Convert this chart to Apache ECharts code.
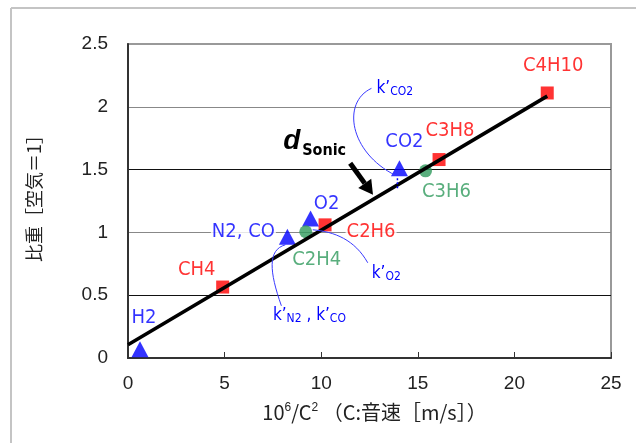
<!DOCTYPE html>
<html>
<head>
<meta charset="utf-8">
<script src="https://cdn.jsdelivr.net/npm/echarts@6/dist/echarts.min.js"></script>
<style>
  html, body { margin: 0; padding: 0; background: #fff; }
  #chart { width: 636px; height: 443px; }
</style>
</head>
<body>
<div id="chart"></div>
<script>
// Gases: x = 10^6 / C^2 (C = speed of sound, m/s), y = specific gravity (air = 1)
const triNames = ['H2', 'N2, CO', 'O2', 'CO2'];
const triX = [0.62, 8.25, 9.45, 14.05];
const triY = [0.07, 0.965, 1.11, 1.51];

const sqNames = ['CH4', 'C2H6', 'C3H8', 'C4H10'];
const sqX = [4.9, 10.2, 16.1, 21.7];
const sqY = [0.565, 1.06, 1.58, 2.11];

const dotNames = ['C2H4', 'C3H6'];
const dotX = [9.2, 15.4];
const dotY = [1.005, 1.49];

// straight fit line d_Sonic
const fitX = [0, 21.7];
const fitY = [0.105, 2.085];

const xTicks = [0, 5, 10, 15, 20, 25];
const yTicks = [0, 0.5, 1, 1.5, 2, 2.5];

const BLUE = '#0000ff', RED = '#ff0000', GREEN = '#2f9a5c';
const LATIN = "'Liberation Sans', Arial, sans-serif";
const NARROW = "'DejaVu Sans Condensed', 'Liberation Sans', sans-serif";
const CJK = "'Noto Sans CJK JP', sans-serif";

// label offset (px) from the marker centre
const labelOffset = {
  'H2': [4, -31], 'N2, CO': [-44, -5], 'O2': [16, -15], 'CO2': [5, -27],
  'CH4': [-26, -17], 'C2H6': [46, 7], 'C3H8': [11, -29], 'C4H10': [6, -27],
  'C2H4': [11, 28], 'C3H6': [21, 21]
};

function points(names, xs, ys) {
  return names.map((n, i) => ({ name: n, value: [xs[i], ys[i]], label: { offset: labelOffset[n] } }));
}
function pointLabel(color) {
  return {
    show: true, position: 'inside', formatter: '{b}', color: color,
    fontSize: 20, fontFamily: NARROW, backgroundColor: '#fff', padding: [0, 1]
  };
}

const chart = echarts.init(document.getElementById('chart'), null, { renderer: 'canvas' });

chart.setOption({
  animation: false,
  backgroundColor: '#fff',
  grid: { left: 128, right: 25, top: 44, bottom: 85, show: true, borderColor: '#999', borderWidth: 2 },
  xAxis: {
    type: 'value', min: xTicks[0], max: xTicks[xTicks.length - 1], interval: xTicks[1] - xTicks[0],
    axisLine: { show: true, onZero: false, lineStyle: { color: '#333', width: 2 } },
    axisTick: { show: true, inside: true, length: 6, lineStyle: { color: '#333', width: 1 } },
    splitLine: { show: false },
    axisLabel: { fontSize: 19, color: '#222', fontFamily: LATIN, margin: 16 },
    name: '10{sup|6}/C{sup|2} （C:音速［m/s］）',
    nameLocation: 'middle', nameGap: 44,
    nameTextStyle: {
      fontSize: 20, color: '#222', fontFamily: CJK, padding: [0, 0, 0, 10],
      rich: { sup: { fontSize: 12, color: '#222', verticalAlign: 'top', fontFamily: LATIN } }
    }
  },
  yAxis: {
    type: 'value', min: yTicks[0], max: yTicks[yTicks.length - 1], interval: yTicks[1] - yTicks[0],
    axisLine: { show: true, onZero: false, lineStyle: { color: '#333', width: 2 } },
    axisTick: { show: false },
    splitLine: { show: true, lineStyle: { color: ['#333', '#111', '#888', '#111', '#888', '#999'], width: 1 } },
    axisLabel: { fontSize: 19, color: '#222', fontFamily: LATIN, margin: 20 },
    name: '比重［空気＝1］', nameLocation: 'middle', nameGap: 85, nameRotate: 90,
    nameTextStyle: { fontSize: 18, color: '#222', fontFamily: CJK, padding: [0, 0, 0, 14] }
  },
  series: [
    {
      type: 'scatter', symbol: 'triangle', symbolSize: [17, 16], clip: false, z: 2,
      itemStyle: { color: BLUE }, label: pointLabel(BLUE),
      data: points(triNames, triX, triY)
    },
    {
      type: 'scatter', symbol: 'rect', symbolSize: 13, clip: false, z: 2,
      itemStyle: { color: RED }, label: pointLabel(RED),
      data: points(sqNames, sqX, sqY)
    },
    {
      type: 'scatter', symbol: 'circle', symbolSize: 13, clip: false, z: 2,
      itemStyle: { color: GREEN }, label: pointLabel(GREEN),
      data: points(dotNames, dotX, dotY)
    },
    {
      type: 'line', showSymbol: false, symbol: 'none', z: 3,
      lineStyle: { color: '#000', width: 3.5 },
      data: fitX.map((x, i) => [x, fitY[i]])
    }
  ]
});

// annotations positioned from data coordinates
const px = (x, y) => chart.convertToPixel({ gridIndex: 0 }, [x, y]);
const co2 = px(triX[3], triY[3]);
const n2 = px(triX[1], triY[1]);
const c2h4 = px(dotX[0], dotY[0]);
const arrowFrom = px(11.5, 1.55);
const arrowTo = px(12.68, 1.3);

function curve(a, p0, p1, p2, p3) {
  return {
    type: 'bezierCurve', z: 10,
    shape: {
      x1: a[0] + p0[0], y1: a[1] + p0[1],
      cpx1: a[0] + p1[0], cpy1: a[1] + p1[1],
      cpx2: a[0] + p2[0], cpy2: a[1] + p2[1],
      x2: a[0] + p3[0], y2: a[1] + p3[1]
    },
    style: { stroke: '#3a3aff', lineWidth: 1, fill: null }
  };
}
function kText(a, off, rich, align) {
  return {
    type: 'text', z: 10, x: a[0] + off[0], y: a[1] + off[1],
    style: {
      text: rich, align: align, verticalAlign: 'middle', fill: BLUE,
      fontFamily: NARROW, fontSize: 16,
      rich: {
        k: { fontSize: 17, fill: BLUE, fontFamily: NARROW },
        s: { fontSize: 12, fill: BLUE, fontFamily: NARROW, padding: [7, 0, 0, 0] }
      }
    }
  };
}

// arrow head geometry
const dx = arrowTo[0] - arrowFrom[0], dy = arrowTo[1] - arrowFrom[1];
const len = Math.hypot(dx, dy), ux = dx / len, uy = dy / len;
const headLen = 14, headW = 8;
const base = [arrowTo[0] - ux * headLen, arrowTo[1] - uy * headLen];

chart.setOption({
  graphic: [
    // outer frame
    { type: 'line', z: 0, shape: { x1: 11, y1: 8, x2: 636, y2: 8 }, style: { stroke: '#c4c4c4', lineWidth: 2 } },
    { type: 'line', z: 0, shape: { x1: 11, y1: 8, x2: 11, y2: 443 }, style: { stroke: '#c4c4c4', lineWidth: 2 } },

    curve(co2, [-28, -80], [-58, -66], [-50, -16], [-4, 7]),
    { type: 'line', z: 10, shape: { x1: co2[0] - 2, y1: co2[1] + 10, x2: co2[0] - 2, y2: co2[1] + 20 },
      style: { stroke: BLUE, lineWidth: 1.5, lineDash: [2, 2] } },
    kText(co2, [-23, -80], '{k|k’}{s|CO2}', 'left'),

    curve(c2h4, [62, 31], [49, 8], [29, 0], [7, -2]),
    kText(c2h4, [66, 42], '{k|k’}{s|O2}', 'left'),

    curve(n2, [-6, 69], [-18, 35], [-20, 13], [-2, 8]),
    kText(n2, [22, 79], '{k|k’}{s|N2}{k| , k’}{s|CO}', 'center'),

    // d_Sonic arrow
    { type: 'line', z: 10,
      shape: { x1: arrowFrom[0], y1: arrowFrom[1], x2: base[0], y2: base[1] },
      style: { stroke: '#000', lineWidth: 5 } },
    { type: 'polygon', z: 10,
      shape: { points: [
        [arrowTo[0], arrowTo[1]],
        [base[0] - uy * headW, base[1] + ux * headW],
        [base[0] + uy * headW, base[1] - ux * headW]
      ] },
      style: { fill: '#000' } },
    { type: 'text', z: 10, x: arrowFrom[0] - 67, y: arrowFrom[1] - 22,
      style: { text: 'd', fontSize: 28, fontWeight: 'bold', fontStyle: 'italic', fontFamily: LATIN,
               fill: '#000', verticalAlign: 'middle', align: 'left' } },
    { type: 'text', z: 10, x: arrowFrom[0] - 48, y: arrowFrom[1] - 12,
      style: { text: 'Sonic', fontSize: 16, fontWeight: 'bold', fontFamily: NARROW,
               fill: '#000', verticalAlign: 'middle', align: 'left' } }
  ]
});
</script>
</body>
</html>
